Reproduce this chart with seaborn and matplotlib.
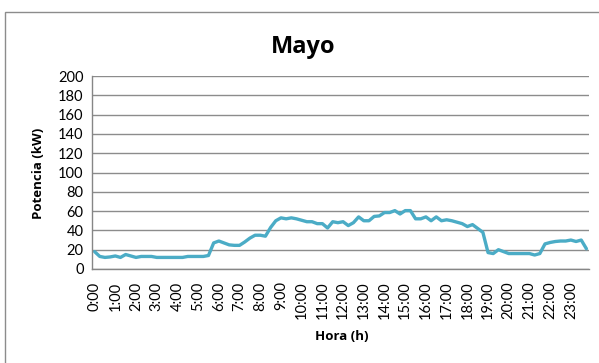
import matplotlib
matplotlib.use("Agg")
import matplotlib.pyplot as plt
import seaborn as sns
import pandas as pd
from matplotlib.patches import Rectangle

# 15-minute readings across the day (96 points)
times = [f"{h}:{m:02d}" for h in range(24) for m in (0, 15, 30, 45)]
potencia = [
    18, 13, 12, 12.5, 13.5, 12, 15, 13.5, 12, 13, 13, 13,
    12, 12, 12, 12, 12, 12, 13, 13, 13, 13, 14, 27,
    29, 27, 25, 24.5, 24.5, 28, 32, 35, 35, 34, 43, 50,
    53, 52, 53, 52, 50.5, 49, 49, 47, 47, 42.5, 49, 48,
    49, 45, 48, 54, 50, 50, 54.5, 55, 58.5, 58.5, 60.5, 57,
    60.5, 60.5, 52, 52, 54, 50, 54, 50, 51, 50, 48.5, 47,
    44, 46, 42, 38, 17, 16, 20, 18, 16, 16, 16, 16,
    16, 14.5, 16, 26, 27.5, 28.5, 29, 29, 30, 28.5, 30, 21,
]
hour_labels = [f"{h}:00" for h in range(24)]

df = pd.DataFrame({"Hora": times, "Potencia": potencia})
df["idx"] = range(len(df))

sns.set_style("white")
plt.rcParams["font.family"] = ["Lato", "DejaVu Sans"]
plt.rcParams["text.color"] = "black"
plt.rcParams["xtick.labelcolor"] = "black"
plt.rcParams["ytick.labelcolor"] = "black"
bold_family = ["Open Sans", "DejaVu Sans"]

fig = plt.figure(figsize=(5.99, 3.63), dpi=100)
ax = fig.add_axes([92 / 599, 1 - 269 / 363, (589 - 92) / 599, (269 - 76) / 363])

sns.lineplot(data=df, x="idx", y="Potencia", ax=ax, color="#4BACC6", linewidth=2.4)

ax.set_xlim(-0.5, len(df) - 0.5)
ax.set_ylim(0, 200)
ax.set_yticks(range(0, 201, 20))
ax.set_xticks(range(0, len(df), 4))
ax.set_xticklabels(hour_labels, rotation=90, fontsize=10.5)
ax.tick_params(axis="y", labelsize=10.5, length=4, width=1, color="#868686", direction="out", pad=2,
               labelcolor="black")
ax.tick_params(axis="x", length=0, pad=9, labelcolor="black")
ax.yaxis.grid(True, color="#8c8c8c", linewidth=1)
ax.xaxis.grid(False)
for s in ["top", "right"]:
    ax.spines[s].set_visible(False)
for s in ["left", "bottom"]:
    ax.spines[s].set_color("#868686")
    ax.spines[s].set_linewidth(1)

ax.set_xlabel("")
ax.set_ylabel("")
fig.text(342 / 599, 1 - 336 / 363, "Hora (h)", fontsize=9.5, fontweight="bold", family=bold_family,
         ha="center", va="center", color="black")
fig.text(38 / 599, 1 - 173 / 363, "Potencia (kW)", fontsize=9.5, fontweight="bold", family=bold_family,
         ha="center", va="center", rotation=90, color="black")
fig.text(303 / 599, 1 - 47 / 363, "Mayo", fontsize=17, fontweight="bold", family=bold_family,
         ha="center", va="center", color="black")

fig.patches.append(Rectangle((5 / 599, -0.1), 1.1, 1 - 12 / 363 + 0.1, transform=fig.transFigure,
                             fill=False, edgecolor="#8c8c8c", linewidth=1))

fig.savefig("out.png", dpi=100)
